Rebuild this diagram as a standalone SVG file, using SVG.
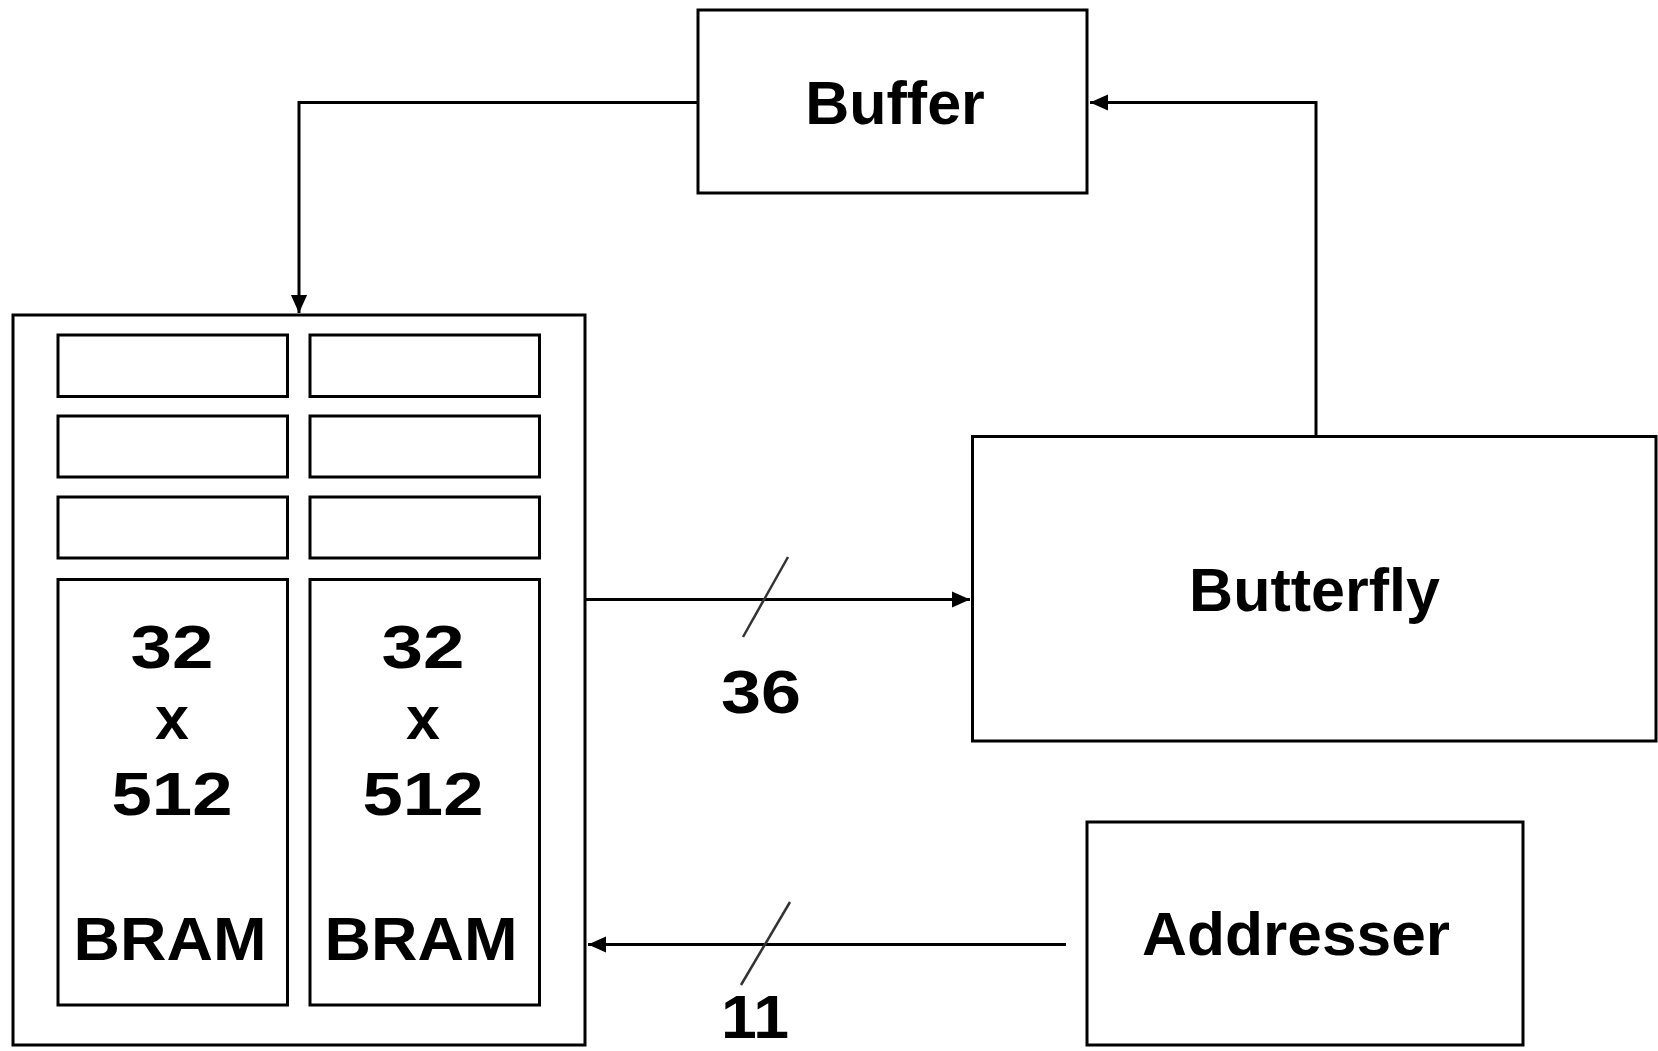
<svg xmlns="http://www.w3.org/2000/svg" width="1658" height="1051" viewBox="0 0 1658 1051">
<defs>
<style>
.box{fill:#fff;stroke:#000;stroke-width:3}
.ln{fill:none;stroke:#000;stroke-width:3}
.sl{fill:none;stroke:#333;stroke-width:2.5}
.t{font-family:"Liberation Sans",Arial,sans-serif;font-weight:bold;font-size:61px;fill:#000;text-anchor:middle}
</style>
<marker id="ah" viewBox="0 0 20 20" refX="20" refY="10" markerWidth="20" markerHeight="18" markerUnits="userSpaceOnUse" orient="auto">
<path d="M0,1 L20,10 L0,19 Z" fill="#000"/>
</marker>
</defs>
<rect width="1658" height="1051" fill="#fff"/>
<g id="connectors">
<path class="ln" d="M698,102.5 H299 V313" marker-end="url(#ah)"/>
<path class="ln" d="M1316,436 V102.5 H1090" marker-end="url(#ah)"/>
<path class="ln" d="M585,599.5 H970" marker-end="url(#ah)"/>
<line class="sl" x1="788" y1="557" x2="743" y2="637"/>
<text class="t" x="761" y="713" textLength="80" lengthAdjust="spacingAndGlyphs">36</text>
<path class="ln" d="M1066,944.5 H588" marker-end="url(#ah)"/>
<line class="sl" x1="790" y1="902" x2="741" y2="985"/>
<text class="t" x="755" y="1038" textLength="68" lengthAdjust="spacingAndGlyphs">11</text>
</g>
<g id="memory">
<rect class="box" x="13" y="315" width="572" height="730"/>
<rect class="box" x="58" y="335" width="229.5" height="61.5"/>
<rect class="box" x="310" y="335" width="229.5" height="61.5"/>
<rect class="box" x="58" y="416" width="229.5" height="61"/>
<rect class="box" x="310" y="416" width="229.5" height="61"/>
<rect class="box" x="58" y="497" width="229.5" height="61"/>
<rect class="box" x="310" y="497" width="229.5" height="61"/>
<g id="bram1">
<rect class="box" x="58" y="579.5" width="229.5" height="425.5"/>
<text class="t" x="172" y="668" textLength="83" lengthAdjust="spacingAndGlyphs">32</text>
<text class="t" x="172" y="739">x</text>
<text class="t" x="172" y="815" textLength="121" lengthAdjust="spacingAndGlyphs">512</text>
<text class="t" x="170" y="960" textLength="193" lengthAdjust="spacingAndGlyphs">BRAM</text>
</g>
<g id="bram2">
<rect class="box" x="310" y="579.5" width="229.5" height="425.5"/>
<text class="t" x="423" y="668" textLength="83" lengthAdjust="spacingAndGlyphs">32</text>
<text class="t" x="423" y="739">x</text>
<text class="t" x="423" y="815" textLength="121" lengthAdjust="spacingAndGlyphs">512</text>
<text class="t" x="421" y="960" textLength="193" lengthAdjust="spacingAndGlyphs">BRAM</text>
</g>
</g>
<g id="buffer">
<rect class="box" x="698" y="10" width="389" height="183"/>
<text class="t" x="895" y="124">Buffer</text>
</g>
<g id="butterfly">
<rect class="box" x="972.5" y="436.5" width="683.5" height="304.5"/>
<text class="t" x="1314.5" y="611">Butterfly</text>
</g>
<g id="addresser">
<rect class="box" x="1087" y="822" width="436" height="223"/>
<text class="t" x="1296" y="955" textLength="308" lengthAdjust="spacingAndGlyphs">Addresser</text>
</g>
</svg>
